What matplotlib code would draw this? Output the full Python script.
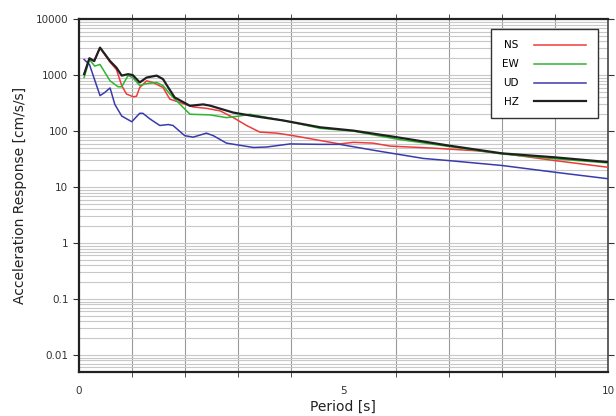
import numpy as np
import matplotlib
matplotlib.use("Agg")
import matplotlib.pyplot as plt
from matplotlib.ticker import FixedLocator, LogLocator, FuncFormatter, NullFormatter

# response spectra (period [s], acceleration [cm/s/s])
t_hz = [0.1, 0.2, 0.29, 0.4, 0.59, 0.71, 0.81, 0.93, 1.02, 1.15, 1.28, 1.47, 1.59, 1.69, 1.81,
        2.1, 2.35, 2.48, 2.92, 3.3, 3.86, 4.56, 5.19, 6.0, 7.0, 8.0, 9.0, 10.0]
a_hz = [1040, 2000, 1780, 3100, 1780, 1360, 980, 1040, 1000, 740, 905, 980, 850, 600, 400,
        283, 300, 285, 214, 186, 155, 117, 102, 78, 55, 40, 34, 28]

t_ew = [0.1, 0.2, 0.3, 0.4, 0.59, 0.74, 0.81, 0.93, 1.02, 1.15, 1.28, 1.47, 1.59, 1.72, 1.85,
        2.1, 2.48, 2.79, 3.04, 3.23, 3.86, 4.56, 5.19, 6.0, 7.0, 8.0, 9.0, 10.0]
a_ew = [910, 1900, 1450, 1550, 790, 620, 620, 980, 900, 650, 705, 740, 650, 460, 346,
        200, 195, 174, 186, 200, 155, 112, 100, 72, 53, 39, 32, 27]

t_ns = [0.1, 0.2, 0.29, 0.4, 0.59, 0.71, 0.81, 0.9, 1.03, 1.09, 1.15, 1.28, 1.4, 1.59, 1.72,
        1.91, 2.16, 2.41, 2.67, 2.92, 3.17, 3.42, 3.74, 4.05, 4.56, 4.93, 5.19, 5.56, 5.88,
        6.7, 7.52, 8.0, 9.0, 10.0]
a_ns = [1040, 2000, 1780, 3100, 1700, 1260, 650, 460, 410, 420, 600, 790, 740, 600, 372,
        325, 270, 255, 230, 174, 126, 96, 92, 83, 68, 59, 63, 61, 54,
        49.6, 44.5, 40, 29.7, 22.6]

t_ud = [0.1, 0.2, 0.4, 0.49, 0.59, 0.68, 0.81, 1.0, 1.15, 1.21, 1.34, 1.53, 1.69, 1.78, 2.0,
        2.16, 2.41, 2.54, 2.79, 3.3, 3.55, 3.99, 4.56, 4.93, 5.63, 6.0, 6.51, 7.0, 8.0, 9.0, 10.0]
a_ud = [1900, 1550, 430, 490, 590, 300, 186, 147, 208, 208, 166, 126, 131, 126, 83,
        78, 92, 83, 61, 51, 52, 59, 58, 58, 44.5, 39, 32.5, 29.7, 24.3, 18.4, 14.1]

fig = plt.figure(figsize=(6.16, 4.16), dpi=100)
ax = fig.add_axes([0.128, 0.106, 0.859, 0.848])

ax.plot(t_ns, a_ns, color="#f03a3a", lw=1.1, label="NS", zorder=3)
ax.plot(t_ew, a_ew, color="#2fb52f", lw=1.1, label="EW", zorder=3)
ax.plot(t_ud, a_ud, color="#3a3ab0", lw=1.1, label="UD", zorder=3)
ax.plot(t_hz, a_hz, color="#202020", lw=1.6, label="HZ", zorder=4)

ax.set_yscale("log")
ax.set_xlim(0, 10)
ax.set_ylim(0.005, 10000)

ax.xaxis.set_major_locator(FixedLocator([0, 5, 10]))
ax.xaxis.set_minor_locator(FixedLocator(np.arange(0, 11, 1)))
ax.yaxis.set_major_locator(LogLocator(base=10, numticks=20))
ax.yaxis.set_minor_locator(LogLocator(base=10, subs=np.arange(2, 10), numticks=50))
ax.yaxis.set_major_formatter(FuncFormatter(lambda v, p: "%g" % v))
ax.yaxis.set_minor_formatter(NullFormatter())

ax.grid(True, which="minor", axis="x", color="#9a9a9a", lw=0.8)
ax.grid(True, which="both", axis="y", color="#c8c8c8", lw=0.8)
ax.set_axisbelow(True)

ax.tick_params(axis="both", which="both", direction="out", colors="#333333",
               labelsize=7.5, top=True, right=True)
ax.tick_params(axis="y", which="minor", length=0)
ax.tick_params(axis="x", which="major", length=0, pad=10)
ax.tick_params(axis="x", which="minor", length=3.5)
ax.tick_params(axis="y", which="major", length=4)

for side in ["left", "bottom", "top"]:
    ax.spines[side].set_linewidth(1.6)
    ax.spines[side].set_color("#222222")
ax.spines["right"].set_linewidth(1.2)
ax.spines["right"].set_color("#444444")

ax.set_xlabel("Period [s]", fontsize=10, color="#222222", labelpad=3)
ax.set_ylabel("Acceleration Response [cm/s/s]", fontsize=10, color="#222222", labelpad=6)

leg = ax.legend(loc="upper right", bbox_to_anchor=(0.981, 0.972), fontsize=7.5,
                markerfirst=False, handlelength=5.0, handletextpad=1.5,
                borderpad=1.1, labelspacing=0.85, borderaxespad=0,
                fancybox=False, framealpha=1)
leg.get_frame().set_edgecolor("#333333")
leg.get_frame().set_linewidth(1.0)

fig.savefig("out.png", dpi=100)
